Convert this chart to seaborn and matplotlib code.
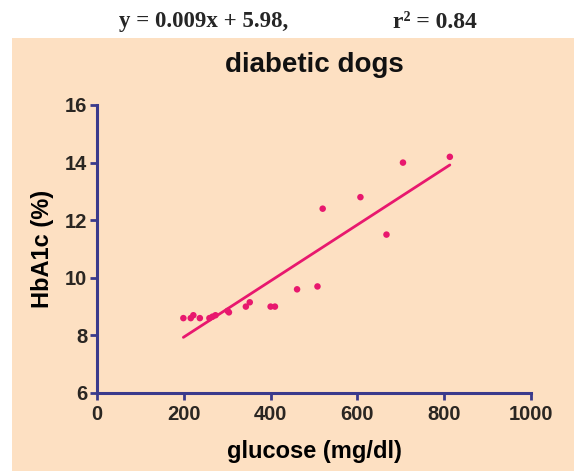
import matplotlib
matplotlib.use("Agg")
import matplotlib.pyplot as plt
import seaborn as sns
import pandas as pd
from matplotlib.patches import Rectangle

# Blood glucose vs HbA1c in diabetic dogs
glucose = [199, 216, 222, 237, 259, 266, 273, 301, 304, 343,
           352, 400, 410, 461, 508, 520, 607, 667, 705, 813]
hba1c = [8.6, 8.6, 8.7, 8.6, 8.6, 8.65, 8.7, 8.85, 8.8, 9.0,
         9.15, 9.0, 9.0, 9.6, 9.7, 12.4, 12.8, 11.5, 14.0, 14.2]

x_ticks = [0, 200, 400, 600, 800, 1000]
y_ticks = [6, 8, 10, 12, 14, 16]

title = "diabetic dogs"
x_label = "glucose (mg/dl)"
y_label = "HbA1c (%)"
equation = "y = 0.009x + 5.98,"
r_squared = "r\u00b2 = 0.84"

df = pd.DataFrame({"glucose": glucose, "hba1c": hba1c})

sns.set_theme(style="ticks")
plt.rcParams["font.family"] = ["Liberation Sans", "DejaVu Sans"]

bg = "#FDE0C2"
axis_col = "#3A3A8C"
mark_col = "#E8186E"
text_col = "#2A2622"

fig = plt.figure(figsize=(5.74, 4.71), dpi=100)
fig.patch.set_facecolor("white")
panel = Rectangle((12 / 574, 0), 1, (471 - 38) / 471,
                  transform=fig.transFigure, facecolor=bg,
                  edgecolor="none", zorder=-10)
fig.add_artist(panel)

ax = fig.add_axes([97 / 574, 78 / 471, 434 / 574, 288 / 471])
ax.set_facecolor("none")
ax.set_zorder(1)

sns.regplot(data=df, x="glucose", y="hba1c", ax=ax, ci=None, truncate=True,
            scatter_kws=dict(s=22, color=mark_col, edgecolor="none", alpha=1),
            line_kws=dict(color=mark_col, lw=2))

ax.set_xlim(0, 1000)
ax.set_ylim(6, 16)
ax.set_xticks(x_ticks)
ax.set_yticks(y_ticks)
for side in ("top", "right"):
    ax.spines[side].set_visible(False)
for side in ("left", "bottom"):
    ax.spines[side].set_color(axis_col)
    ax.spines[side].set_linewidth(2.2)
ax.tick_params(axis="both", colors=axis_col, width=2, length=5,
               labelcolor=text_col, labelsize=14.5, pad=2)
ax.tick_params(axis="x", pad=4)
for lab in ax.get_xticklabels() + ax.get_yticklabels():
    lab.set_fontweight("bold")

ax.set_xlabel(x_label, fontsize=17, fontweight="bold", color="black", labelpad=11)
ax.set_ylabel(y_label, fontsize=17, fontweight="bold", color="black", labelpad=8)
ax.set_title(title, fontsize=20, fontweight="bold", color="#111111", pad=24)

fig.text(204 / 574, 1 - 22 / 471, equation, ha="center", va="center",
         fontsize=16.5, fontweight="bold", family="Liberation Serif")
fig.text(435 / 574, 1 - 22 / 471, r_squared, ha="center", va="center",
         fontsize=17, fontweight="bold", family="Liberation Serif")

fig.savefig("out.png", dpi=100, facecolor=fig.get_facecolor())
